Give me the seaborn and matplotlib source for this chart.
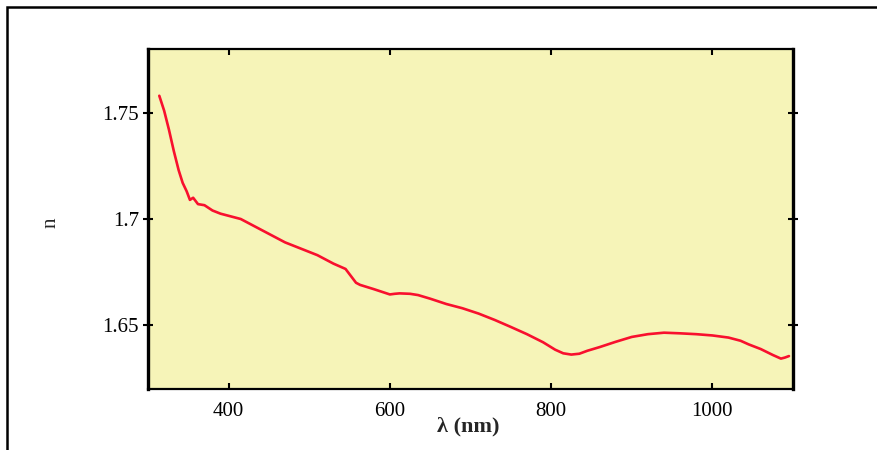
import matplotlib
matplotlib.use("Agg")
import matplotlib.pyplot as plt
import matplotlib.patches as mpatches
import seaborn as sns
import pandas as pd

# Refractive index dispersion curve
wavelength_nm = [314, 320, 326, 332, 338, 343, 348, 352, 356, 362, 370, 380, 390,
                 400, 415, 430, 450, 470, 490, 510, 530, 545, 552, 558, 563, 580,
                 600, 606, 612, 625, 635, 650, 670, 690, 710, 730, 750, 770, 790,
                 805, 815, 825, 835, 845, 860, 880, 900, 920, 940, 960, 980, 1000,
                 1020, 1035, 1045, 1060, 1075, 1085, 1090, 1095]
refr_index = [1.758, 1.751, 1.742, 1.732, 1.723, 1.717, 1.713, 1.709, 1.710, 1.707,
              1.7065, 1.704, 1.7025, 1.7015, 1.700, 1.697, 1.693, 1.689, 1.686,
              1.683, 1.679, 1.6765, 1.673, 1.670, 1.669, 1.667, 1.6645, 1.6648,
              1.6650, 1.6648, 1.6642, 1.6625, 1.660, 1.658, 1.6555, 1.6525, 1.6492,
              1.6458, 1.642, 1.6385, 1.6368, 1.6362, 1.6366, 1.638, 1.6397, 1.6422,
              1.6445, 1.6458, 1.6465, 1.6462, 1.6458, 1.6452, 1.6442, 1.6427,
              1.641, 1.6388, 1.636, 1.6343, 1.6348, 1.6355]

x_ticks = [400, 600, 800, 1000]
y_ticks = [1.65, 1.7, 1.75]
y_tick_labels = ["1.65", "1.7", "1.75"]

sns.set_theme(style="ticks")
plt.rcParams["font.family"] = ["Liberation Serif", "DejaVu Serif"]

df = pd.DataFrame({"wavelength": wavelength_nm, "n": refr_index})

fig = plt.figure(figsize=(8.77, 4.5), dpi=100)
ax = fig.add_axes([148 / 877, 1 - 389 / 450, (793 - 148) / 877, (389 - 49) / 450])

# outer frame of the figure
frame = mpatches.Rectangle((7 / 877, -0.05), 1.2, 1 - 7 / 450 + 0.05,
                           transform=fig.transFigure, fill=False,
                           edgecolor="black", linewidth=1.8, clip_on=False)
fig.patches.append(frame)

ax.set_facecolor("#F6F4B8")
sns.lineplot(data=df, x="wavelength", y="n", ax=ax, color="#F8102E",
             linewidth=1.9, estimator=None, sort=False)

ax.set_xlim(300, 1100)
ax.set_ylim(1.62, 1.78)
ax.set_xticks(x_ticks)
ax.set_xticklabels([str(v) for v in x_ticks])
ax.set_yticks(y_ticks)
ax.set_yticklabels(y_tick_labels)

for side in ["left", "right"]:
    ax.spines[side].set_linewidth(2.4)
for side in ["top", "bottom"]:
    ax.spines[side].set_linewidth(1.6)
for sp in ax.spines.values():
    sp.set_color("black")
    sp.set_visible(True)

ax.tick_params(axis="x", direction="in", length=4, width=1.5, pad=9,
               labelsize=15, top=True, bottom=True, colors="black")
ax.tick_params(axis="y", direction="inout", length=7, width=1.5, pad=3,
               labelsize=15, left=True, right=True, colors="black")

ax.set_xlabel("\u03bb (nm)", fontsize=16, fontweight="bold")
ax.set_ylabel("n", fontsize=15)
ax.xaxis.set_label_coords(0.496, -0.08)
ax.yaxis.set_label_coords(-0.135, 0.49)
ax.grid(False)

fig.savefig("out.png", dpi=100)
